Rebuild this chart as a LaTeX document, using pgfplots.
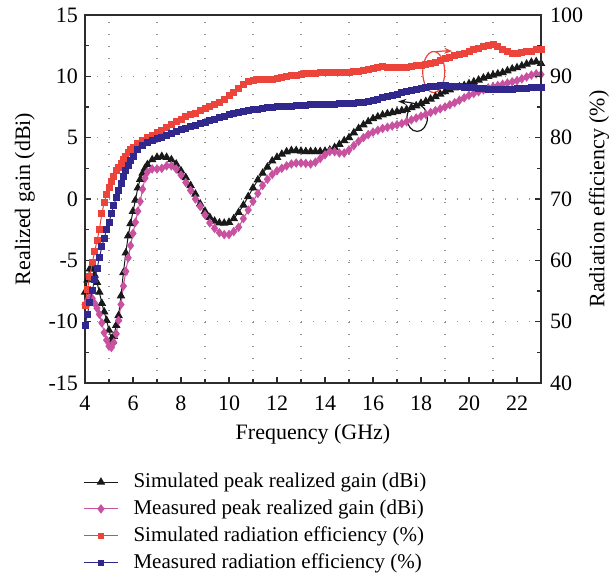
\documentclass[border=0pt]{standalone}
\usepackage{fontspec}
\setmainfont{Liberation Serif}
\usepackage{pgfplots}
\pgfplotsset{compat=1.18}
\usepackage{pgfplotstable}
\usetikzlibrary{arrows.meta}
\definecolor{cred}{RGB}{236,68,58}
\definecolor{cblue}{RGB}{48,40,140}
\definecolor{cmag}{RGB}{200,82,160}
\definecolor{cblk}{RGB}{25,25,25}
\definecolor{caxis}{RGB}{45,45,45}

\pgfplotstableread{
x y
4.0 -7.6
4.1 -6.6
4.2 -5.7
4.3 -5.7
4.4 -6.2
4.5 -6.8
4.6 -7.6
4.7 -8.5
4.8 -9.2
4.9 -9.9
5.0 -10.7
5.1 -11.4
5.15 -11.6
5.2 -11.2
5.3 -10.3
5.4 -9.5
5.5 -7.9
5.6 -6.0
5.7 -4.4
5.8 -3.0
5.9 -2.0
6.0 -1.0
6.1 -0.1
6.2 0.9
6.3 1.6
6.4 2.1
6.5 2.5
6.6 2.8
6.8 3.2
7.0 3.4
7.2 3.47
7.4 3.4
7.6 3.2
7.8 2.85
8.0 2.3
8.2 1.75
8.4 1.1
8.6 0.4
8.8 -0.4
9.0 -1.0
9.2 -1.5
9.4 -1.8
9.6 -1.95
9.8 -1.97
10.0 -1.9
10.2 -1.6
10.4 -1.1
10.6 -0.5
10.8 0.2
11.0 0.9
11.2 1.55
11.4 2.1
11.6 2.6
11.8 3.1
12.0 3.4
12.2 3.65
12.4 3.85
12.6 3.95
12.8 3.95
13.0 3.9
13.2 3.87
13.4 3.87
13.6 3.87
13.8 3.87
14.0 3.9
14.2 4.0
14.4 4.2
14.6 4.45
14.8 4.75
15.0 5.0
15.2 5.4
15.4 5.75
15.6 6.05
15.8 6.3
16.0 6.55
16.2 6.7
16.4 6.85
16.6 6.95
16.8 7.05
17.0 7.12
17.2 7.2
17.4 7.3
17.6 7.45
17.8 7.6
18.0 7.8
18.2 7.95
18.4 8.15
18.6 8.35
18.8 8.55
19.0 8.75
19.2 8.9
19.4 9.05
19.6 9.15
19.8 9.25
20.0 9.4
20.2 9.55
20.4 9.7
20.6 9.86
20.8 10.0
21.0 10.1
21.2 10.2
21.4 10.3
21.6 10.45
21.8 10.6
22.0 10.7
22.2 10.85
22.4 11.0
22.6 11.15
22.8 11.2
23.0 11.05
}\simgain

\pgfplotstableread{
x y
4.0 -8.6
4.1 -8.3
4.2 -8.0
4.3 -8.1
4.4 -8.5
4.5 -8.9
4.6 -9.4
4.7 -10.1
4.8 -10.9
4.9 -11.5
5.0 -12.0
5.1 -12.1
5.2 -11.7
5.3 -11.0
5.4 -9.9
5.5 -8.6
5.6 -7.1
5.7 -5.9
5.8 -4.8
5.9 -3.8
6.0 -2.8
6.1 -1.9
6.2 -1.0
6.3 -0.2
6.4 0.8
6.5 1.7
6.6 2.2
6.8 2.45
7.0 2.45
7.2 2.5
7.4 2.7
7.6 2.7
7.8 2.45
8.0 1.95
8.2 1.35
8.4 0.7
8.6 0.0
8.8 -0.6
9.0 -1.3
9.2 -1.95
9.4 -2.4
9.6 -2.75
9.8 -2.9
10.0 -2.9
10.2 -2.65
10.4 -2.3
10.6 -1.6
10.8 -0.9
11.0 -0.2
11.2 0.45
11.4 1.1
11.6 1.6
11.8 2.0
12.0 2.3
12.2 2.5
12.4 2.7
12.6 2.85
12.8 2.93
13.0 2.93
13.2 2.9
13.4 2.85
13.6 3.0
13.8 3.3
14.0 3.6
14.2 3.87
14.4 3.85
14.6 3.75
14.8 3.75
15.0 4.0
15.2 4.35
15.4 4.7
15.6 5.0
15.8 5.25
16.0 5.45
16.2 5.6
16.4 5.75
16.6 5.85
16.8 5.95
17.0 6.05
17.2 6.15
17.4 6.3
17.6 6.45
17.8 6.6
18.0 6.75
18.2 6.9
18.4 7.05
18.6 7.2
18.8 7.35
19.0 7.5
19.2 7.68
19.4 7.85
19.6 8.05
19.8 8.25
20.0 8.45
20.2 8.6
20.4 8.75
20.6 8.9
20.8 9.05
21.0 9.15
21.2 9.25
21.4 9.35
21.6 9.45
21.8 9.55
22.0 9.65
22.2 9.8
22.4 9.95
22.6 10.1
22.8 10.2
23.0 10.15
}\measgain

\pgfplotstableread{
x y
4.0 52.6
4.1 55.2
4.2 57.4
4.3 59.6
4.4 61.4
4.5 63.2
4.6 65.0
4.7 67.6
4.8 69.4
4.9 70.8
5.0 71.8
5.1 72.8
5.2 73.6
5.3 74.6
5.4 75.2
5.5 75.8
5.6 76.4
5.7 77.0
5.8 77.6
5.9 78.0
6.0 78.4
6.2 79.0
6.4 79.6
6.6 80.0
6.8 80.4
7.0 80.8
7.2 81.2
7.4 81.7
7.6 82.2
7.8 82.6
8.0 83.0
8.2 83.4
8.4 83.7
8.6 84.0
8.8 84.4
9.0 84.7
9.2 85.0
9.4 85.4
9.6 85.8
9.8 86.3
10.0 86.8
10.2 87.4
10.4 88.0
10.6 88.6
10.8 89.1
11.0 89.4
11.2 89.5
11.4 89.5
11.6 89.5
11.8 89.5
12.0 89.6
12.2 89.8
12.4 90.0
12.6 90.1
12.8 90.2
13.0 90.3
13.2 90.4
13.4 90.5
13.6 90.5
13.8 90.55
14.0 90.55
14.2 90.55
14.4 90.55
14.6 90.6
14.8 90.65
15.0 90.7
15.2 90.75
15.4 90.8
15.6 90.9
15.8 91.1
16.0 91.3
16.2 91.5
16.4 91.55
16.6 91.5
16.8 91.45
17.0 91.4
17.2 91.45
17.4 91.5
17.6 91.6
17.8 91.7
18.0 91.8
18.2 91.95
18.4 92.1
18.6 92.3
18.8 92.6
19.0 92.9
19.2 93.1
19.4 93.35
19.6 93.6
19.8 93.8
20.0 94.0
20.2 94.3
20.4 94.6
20.6 94.9
20.8 95.1
21.0 95.15
21.2 94.9
21.4 94.4
21.6 94.0
21.8 93.8
22.0 93.8
22.2 93.9
22.4 94.0
22.6 94.1
22.8 94.3
23.0 94.4
}\simeff

\pgfplotstableread{
x y
4.0 49.4
4.1 51.2
4.2 53.2
4.3 55.0
4.4 56.8
4.5 58.6
4.6 60.4
4.7 62.2
4.8 63.6
4.9 65.0
5.0 66.2
5.1 67.6
5.2 69.0
5.3 70.2
5.4 71.4
5.5 72.5
5.6 73.6
5.7 74.6
5.8 75.5
5.9 76.3
6.0 77.0
6.2 78.0
6.4 78.7
6.6 79.2
6.8 79.5
7.0 79.8
7.2 80.1
7.4 80.4
7.6 80.7
7.8 81.0
8.0 81.25
8.2 81.5
8.4 81.75
8.6 82.0
8.8 82.25
9.0 82.5
9.2 82.75
9.4 83.0
9.6 83.25
9.8 83.5
10.0 83.75
10.2 84.0
10.4 84.15
10.6 84.3
10.8 84.45
11.0 84.55
11.2 84.65
11.4 84.75
11.6 84.85
11.8 84.95
12.0 85.0
12.2 85.05
12.4 85.1
12.6 85.15
12.8 85.2
13.0 85.25
13.2 85.3
13.4 85.35
13.6 85.4
13.8 85.45
14.0 85.45
14.2 85.45
14.4 85.45
14.6 85.5
14.8 85.55
15.0 85.6
15.2 85.65
15.4 85.7
15.6 85.8
15.8 85.95
16.0 86.1
16.2 86.3
16.4 86.5
16.6 86.7
16.8 86.9
17.0 87.1
17.2 87.3
17.4 87.5
17.6 87.7
17.8 87.9
18.0 88.05
18.2 88.2
18.4 88.3
18.6 88.4
18.8 88.45
19.0 88.45
19.2 88.4
19.4 88.35
19.6 88.3
19.8 88.25
20.0 88.15
20.2 88.1
20.4 88.0
20.6 87.95
20.8 87.9
21.0 87.85
21.2 87.85
21.4 87.85
21.6 87.85
21.8 87.9
22.0 87.95
22.2 88.0
22.4 88.05
22.6 88.15
22.8 88.2
23.0 88.25
}\measeff

\begin{document}
\begin{tikzpicture}
\path[use as bounding box] (-42.5pt,-96.5pt) rectangle (262.5pt,191.5pt);
\pgfplotsset{
  base/.style={
    scale only axis, width=228pt, height=184pt,
    xmin=4, xmax=23,
    tick align=inside,
    major tick length=3pt, minor tick length=2pt,
    every tick/.style={caxis, line width=0.6pt},
    axis line style={caxis, line width=0.9pt},
    tick label style={font=\fontsize{11}{13}\selectfont, text=black},
    label style={font=\fontsize{11}{13}\selectfont, text=black},
    /pgf/number format/assume math mode=true,
  }
}
\begin{axis}[base,
  ymin=-15, ymax=15,
  xtick={4,6,...,22}, minor xtick={5,7,...,21},
  ytick={-15,-10,...,15}, minor ytick={-12.5,-7.5,...,12.5},
  xtick pos=bottom, ytick pos=left,
  xmajorgrids=false, xminorgrids=true, ymajorgrids=true, yminorgrids=false,
  major grid style={gray!85, line width=0.6pt, dash pattern=on 0.6pt off 5.4pt},
  minor grid style={gray!85, line width=0.6pt, dash pattern=on 0.6pt off 5.4pt},
  xticklabel style={yshift=-3pt},
  xlabel={Frequency (GHz)}, ylabel={Realized gain (dBi)},
  xlabel style={yshift=0pt}, ylabel style={yshift=0pt},
  legend style={draw=none, fill=none, at={(0,0)}, anchor=north west,
    xshift=-4pt, yshift=-42pt, font=\fontsize{10.5}{12.6}\selectfont,
    row sep=2.6pt, column sep=6.5pt, nodes={inner sep=1pt}},
  legend cell align=left,
]
\addplot[cblk, line width=0.5pt, mark=triangle*, mark size=2pt, mark options={solid}] table[x=x,y=y] {\simgain};
\addlegendentry{Simulated peak realized gain (dBi)}
\addplot[cmag, line width=0.5pt, mark=diamond*, mark size=2pt, mark options={solid}] table[x=x,y=y] {\measgain};
\addlegendentry{Measured peak realized gain (dBi)}
\addlegendimage{cred, line width=0.5pt, mark=square*, mark size=1.3pt}
\addlegendentry{Simulated radiation efficiency (\%)}
\addlegendimage{cblue, line width=0.5pt, mark=square*, mark size=1.3pt}
\addlegendentry{Measured radiation efficiency (\%)}
\draw[cred, line width=0.6pt] (axis cs:18.53,10.35) ellipse [x radius=5.5pt, y radius=10.25pt];
\draw[cred, line width=0.6pt, -{Stealth[length=4pt,width=3pt]}] (axis cs:18.6,12.0) to[bend left=5] (axis cs:19.3,12.05);
\draw[cblk, line width=0.6pt] (axis cs:17.84,6.6) ellipse [x radius=5.1pt, y radius=6.7pt];
\draw[cblk, line width=0.6pt, -{Stealth[length=4pt,width=3pt]}] (axis cs:17.8,7.75) to[bend right=5] (axis cs:17.05,7.95);
\end{axis}
\begin{axis}[base,
  ymin=40, ymax=100,
  hide x axis,
  axis y line*=right,
  ytick={40,50,...,100}, minor ytick={45,55,...,95},
  yticklabel style={xshift=1pt},
  ylabel={Radiation efficiency (\%)},
  ylabel style={yshift=4pt},
]
\addplot[cred, line width=0.5pt, mark=square*, mark size=1.5pt, mark options={solid}] table[x=x,y=y] {\simeff};
\addplot[cblue, line width=0.5pt, mark=square*, mark size=1.5pt, mark options={solid}] table[x=x,y=y] {\measeff};
\end{axis}
\end{tikzpicture}
\end{document}
